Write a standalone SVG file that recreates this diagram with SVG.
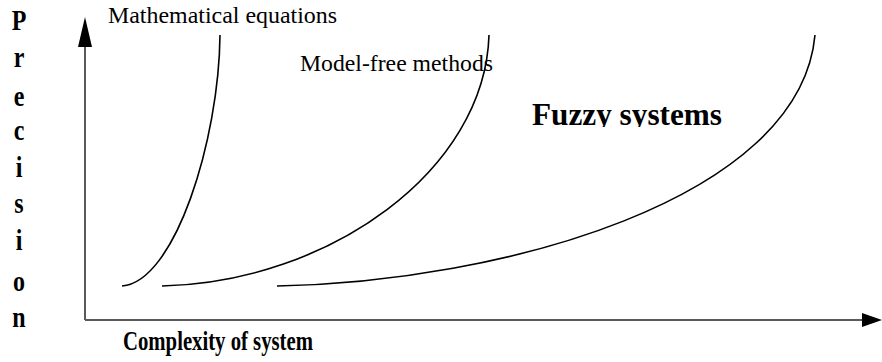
<svg xmlns="http://www.w3.org/2000/svg" width="882" height="362" viewBox="0 0 882 362">
<style>
.axis{stroke:#5a5a5a;stroke-width:2;fill:none}
.curve{stroke:#000;stroke-width:1.6;fill:none}
.lbl{font-family:"Liberation Serif","Times New Roman",serif;font-size:24px;font-weight:400;fill:#000}
.bold{font-family:"Liberation Serif","Times New Roman",serif;font-weight:bold;fill:#000}
.yl{font-size:30px;text-anchor:middle}
</style>
<defs>
<clipPath id="fz"><rect x="500" y="80" width="260" height="47"/></clipPath>
</defs>
<rect width="882" height="362" fill="#fff"/>
<g id="connectors">
<path class="axis" d="M85,320 V46"/>
<polygon points="85,17 78,47 92,47" fill="#000"/>
<path class="axis" d="M85,320 H862"/>
<polygon points="882,320 862,313 862,327" fill="#000"/>
<path class="curve" d="M122,286 C175,282 219,140 220,35"/>
<path class="curve" d="M162,286 C330,282 485,170 489,35"/>
<path class="curve" d="M277,286 C500,282 800,200 815,35"/>
</g>
<g id="ylabel" transform="translate(19,0) scale(0.8,1)">
<text class="bold yl" x="0" y="30">P</text>
<text class="bold yl" x="0" y="67">r</text>
<text class="bold yl" x="0" y="106">e</text>
<text class="bold yl" x="0" y="140">c</text>
<text class="bold yl" x="0" y="177">i</text>
<text class="bold yl" x="0" y="213">s</text>
<text class="bold yl" x="0" y="250">i</text>
<text class="bold yl" x="0" y="291">o</text>
<text class="bold yl" x="0" y="327">n</text>
</g>
<g id="xlabel">
<text class="bold" x="123" y="350" font-size="27" textLength="190" lengthAdjust="spacingAndGlyphs">Complexity of system</text>
</g>
<g id="math">
<text class="lbl" x="108" y="23" textLength="229" lengthAdjust="spacingAndGlyphs">Mathematical equations</text>
</g>
<g id="modelfree">
<text class="lbl" x="300" y="71" textLength="193" lengthAdjust="spacingAndGlyphs">Model-free methods</text>
</g>
<g id="fuzzy">
<text class="bold" x="532" y="125" font-size="31" textLength="190" lengthAdjust="spacingAndGlyphs" clip-path="url(#fz)">Fuzzy systems</text>
</g>
</svg>
